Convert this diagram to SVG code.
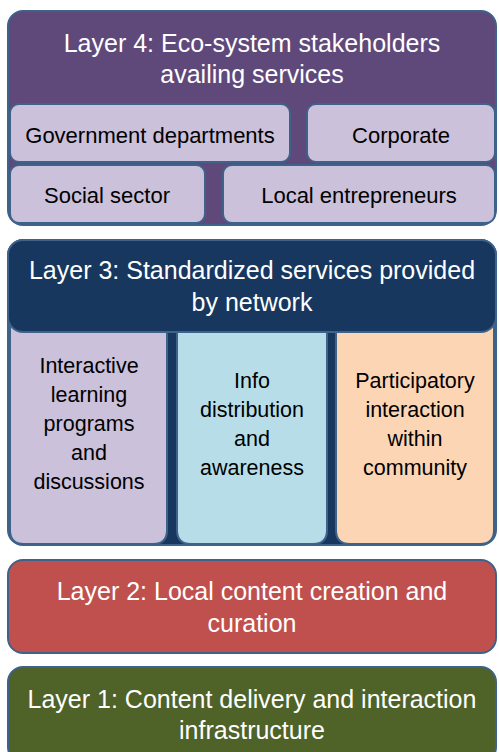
<svg xmlns="http://www.w3.org/2000/svg" width="499" height="752" viewBox="0 0 499 752">
  <style>
    .frame { stroke: #3e6289; stroke-width: 2; }
    .title { font-family: "Liberation Sans", Arial, sans-serif; font-size: 25px; fill: #ffffff; text-anchor: middle; }
    .item { font-family: "Liberation Sans", Arial, sans-serif; font-size: 21.5px; fill: #000000; text-anchor: middle; }
    .stake { fill: #ccc1da; }
    .stake-label { font-size: 22px; }
  </style>
  <rect width="499" height="752" fill="#ffffff"/>

  <!-- Layer 4 -->
  <g id="layer4">
    <rect class="frame" x="8" y="11" width="488" height="214" rx="15" fill="#5f497a"/>
    <text class="title" x="252" y="52">Layer 4: Eco-system stakeholders</text>
    <text class="title" x="252" y="83">availing services</text>
  </g>
  <g id="gov">
    <rect class="frame stake" x="10" y="104" width="280" height="58" rx="9"/>
    <text class="item stake-label" x="150" y="143">Government departments</text>
  </g>
  <g id="corporate">
    <rect class="frame stake" x="307" y="104" width="188" height="58" rx="9"/>
    <text class="item stake-label" x="401" y="143">Corporate</text>
  </g>
  <g id="social">
    <rect class="frame stake" x="10" y="165" width="195" height="58" rx="9"/>
    <text class="item stake-label" x="107" y="203">Social sector</text>
  </g>
  <g id="entrepreneurs">
    <rect class="frame stake" x="223" y="165" width="272" height="58" rx="9"/>
    <text class="item stake-label" x="359" y="203">Local entrepreneurs</text>
  </g>

  <!-- Layer 3 -->
  <g id="layer3">
    <rect class="frame" x="8" y="240" width="488" height="305" rx="15" fill="#17375e"/>
  </g>
  <g id="learning">
    <path class="frame" d="M10 320 H167 V530 Q167 544 153 544 H24 Q10 544 10 530 Z" fill="#ccc1da"/>
    <text class="item" x="89" y="373">Interactive</text>
    <text class="item" x="89" y="402">learning</text>
    <text class="item" x="89" y="431">programs</text>
    <text class="item" x="89" y="460">and</text>
    <text class="item" x="89" y="489">discussions</text>
  </g>
  <g id="info">
    <path class="frame" d="M177 320 H327 V530 Q327 544 313 544 H191 Q177 544 177 530 Z" fill="#b7dee8"/>
    <text class="item" x="252" y="388">Info</text>
    <text class="item" x="252" y="417">distribution</text>
    <text class="item" x="252" y="446">and</text>
    <text class="item" x="252" y="475">awareness</text>
  </g>
  <g id="participatory">
    <path class="frame" d="M336 320 H494 V530 Q494 544 480 544 H350 Q336 544 336 530 Z" fill="#fcd5b5"/>
    <text class="item" x="415" y="388">Participatory</text>
    <text class="item" x="415" y="417">interaction</text>
    <text class="item" x="415" y="446">within</text>
    <text class="item" x="415" y="475">community</text>
  </g>
  <g id="layer3-header">
    <rect class="frame" x="8" y="240" width="488" height="92" rx="15" fill="#17375e"/>
    <text class="title" x="252" y="279">Layer 3: Standardized services provided</text>
    <text class="title" x="252" y="311">by network</text>
  </g>

  <!-- Layer 2 -->
  <g id="layer2">
    <rect class="frame" x="8" y="560" width="488" height="93" rx="15" fill="#c0504d"/>
    <text class="title" x="252" y="600">Layer 2: Local content creation and</text>
    <text class="title" x="252" y="632">curation</text>
  </g>

  <!-- Layer 1 -->
  <g id="layer1">
    <rect class="frame" x="8" y="667" width="488" height="95" rx="15" fill="#4f6228"/>
    <text class="title" x="252" y="708">Layer 1: Content delivery and interaction</text>
    <text class="title" x="252" y="739">infrastructure</text>
  </g>

  <g id="connectors"/>
</svg>
